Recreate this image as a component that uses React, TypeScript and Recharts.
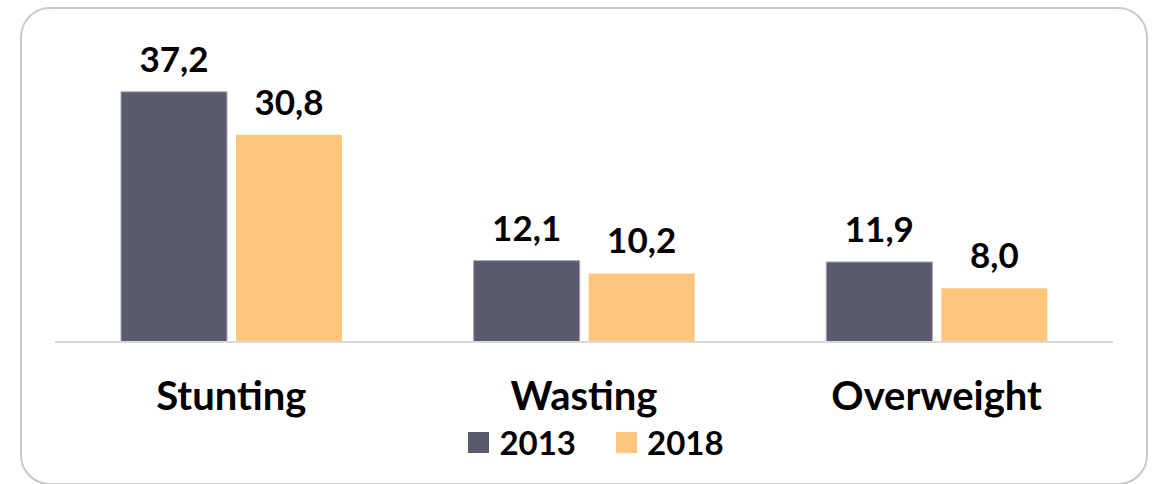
import { BarChart, Bar, XAxis, YAxis, Legend, LabelList } from "recharts"

const categories = ["Stunting", "Wasting", "Overweight"]
const values2013 = [37.2, 12.1, 11.9]
const values2018 = [30.8, 10.2, 8.0]
const seriesNames = ["2013", "2018"]

const data = categories.map((name, i) => ({
  name,
  y2013: values2013[i],
  y2018: values2018[i],
}))

const FONT = "Lato, 'Open Sans', sans-serif"

const fmt = (v: number) => v.toFixed(1).replace(".", ",")

function CategoryTick({ x, y, payload }: any) {
  return (
    <text
      x={x}
      y={y + 60}
      textAnchor="middle"
      fill="#000"
      style={{ fontFamily: FONT, fontWeight: 700, fontSize: 40 }}
    >
      {payload.value}
    </text>
  )
}

function LegendContent({ payload }: any) {
  return (
    <div style={{ display: "flex", justifyContent: "center", gap: 40 }}>
      {(payload || []).map((p: any) => (
        <div key={p.value} style={{ display: "flex", alignItems: "center" }}>
          <span
            style={{
              width: 21,
              height: 21,
              background: p.color,
              display: "inline-block",
              marginRight: 10,
            }}
          />
          <span
            style={{
              fontFamily: FONT,
              fontWeight: 700,
              fontSize: 33,
              color: "#000",
              lineHeight: "30px",
            }}
          >
            {p.value}
          </span>
        </div>
      ))}
    </div>
  )
}

export default function App() {
  return (
    <div
      style={{
        position: "absolute",
        left: 0,
        top: 0,
        width: 1152,
        height: 484,
        background: "#fff",
        overflow: "hidden",
      }}
    >
      <div
        style={{
          position: "absolute",
          left: 20,
          top: 7,
          width: 1124,
          height: 474,
          border: "2px solid #c9c9c9",
          borderRadius: 30,
        }}
      />
      <BarChart
        width={1152}
        height={484}
        data={data}
        margin={{ top: 73, right: 39, left: 55, bottom: 112 }}
        barSize={106}
        barGap={9}
        style={{ position: "absolute", left: 0, top: 0 }}
      >
        <XAxis
          dataKey="name"
          height={30}
          axisLine={{ stroke: "#d9d9d9", strokeWidth: 2 }}
          tickLine={false}
          tick={<CategoryTick />}
          interval={0}
        />
        <YAxis hide domain={[0, 40]} />
        <Legend
          layout="horizontal"
          verticalAlign="middle"
          align="center"
          content={<LegendContent />}
          wrapperStyle={{ top: 427, left: 20, width: 1152 }}
        />
        <Bar
          dataKey="y2013"
          name={seriesNames[0]}
          fill="#5a5b6d"
          stroke="#a3a3b0"
          strokeWidth={1}
          isAnimationActive={false}
        >
          <LabelList
            dataKey="y2013"
            position="top"
            offset={20}
            formatter={fmt}
            style={{ fontFamily: FONT, fontWeight: 700, fontSize: 35, fill: "#000" }}
          />
        </Bar>
        <Bar
          dataKey="y2018"
          name={seriesNames[1]}
          fill="#fec57c"
          isAnimationActive={false}
        >
          <LabelList
            dataKey="y2018"
            position="top"
            offset={20}
            formatter={fmt}
            style={{ fontFamily: FONT, fontWeight: 700, fontSize: 35, fill: "#000" }}
          />
        </Bar>
      </BarChart>
    </div>
  )
}
